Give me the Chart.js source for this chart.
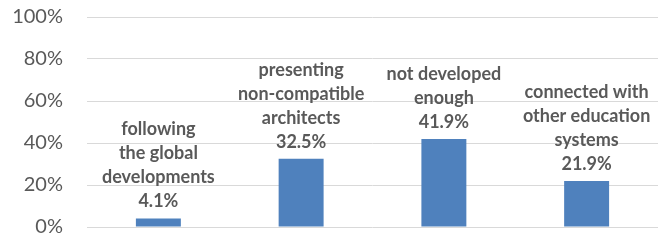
<!DOCTYPE html>
<html>
<head>
<meta charset="utf-8">
<script src="https://cdn.jsdelivr.net/npm/chart.js@4.4.0/dist/chart.umd.min.js"></script>
<style>
  html, body { margin: 0; padding: 0; background: #fff; }
  #wrap { width: 659px; height: 240px; }
</style>
</head>
<body>
<div id="wrap"><canvas id="myChart" width="659" height="240"></canvas></div>
<script>
// values
const categories = [
  ['following', 'the global', 'developments'],
  ['presenting', 'non-compatible', 'architects'],
  ['not developed', 'enough'],
  ['connected with', 'other education', 'systems']
];
const percents = [4.1, 32.5, 41.9, 21.9];
const yTicks = [0, 20, 40, 60, 80, 100];

const textGray = '#595959';

// labels stacked above each bar: category lines then the value
const barLabels = {
  id: 'barLabels',
  afterDatasetsDraw(chart) {
    const c = chart.ctx;
    const meta = chart.getDatasetMeta(0);
    c.save();
    c.font = 'bold 18px Lato';
    c.fillStyle = textGray;
    c.textAlign = 'center';
    c.textBaseline = 'middle';
    meta.data.forEach((bar, i) => {
      const lines = categories[i].concat([percents[i].toFixed(1) + '%']);
      let y = bar.y - 17;
      for (let k = lines.length - 1; k >= 0; k--) {
        c.fillText(lines[k], bar.x, y);
        y -= 24;
      }
    });
    c.restore();
  }
};

const ctx = document.getElementById('myChart');

let t = {
  type: 'bar',
  data: {
    labels: categories.map(l => l.join(' ')),
    datasets: [
      {
        label: 'share',
        data: percents,
        backgroundColor: '#4F81BD',
        categoryPercentage: 1,
        barPercentage: 0.315
      }
    ]
  },
  options: {
    responsive: false,
    animation: false,
    layout: { padding: { top: 17, right: 1, bottom: 13, left: 0 } },
    plugins: {
      legend: { display: false },
      tooltip: { enabled: false }
    },
    scales: {
      x: {
        display: false
      },
      y: {
        min: 0,
        max: 100,
        afterBuildTicks: (scale) => { scale.ticks = yTicks.map(v => ({ value: v })); },
        afterFit: (scale) => { scale.width = 87; },
        border: { display: false },
        grid: { color: '#d9d9d9', lineWidth: 1, drawTicks: true, tickLength: 24, tickColor: 'rgba(0,0,0,0)' },
        ticks: {
          padding: 0,
          color: textGray,
          font: { family: 'Lato', size: 20 },
          callback: (v) => v + '%'
        }
      }
    }
  },
  plugins: [barLabels]
};

let cc = new Chart(ctx, t);
</script>
</body>
</html>
